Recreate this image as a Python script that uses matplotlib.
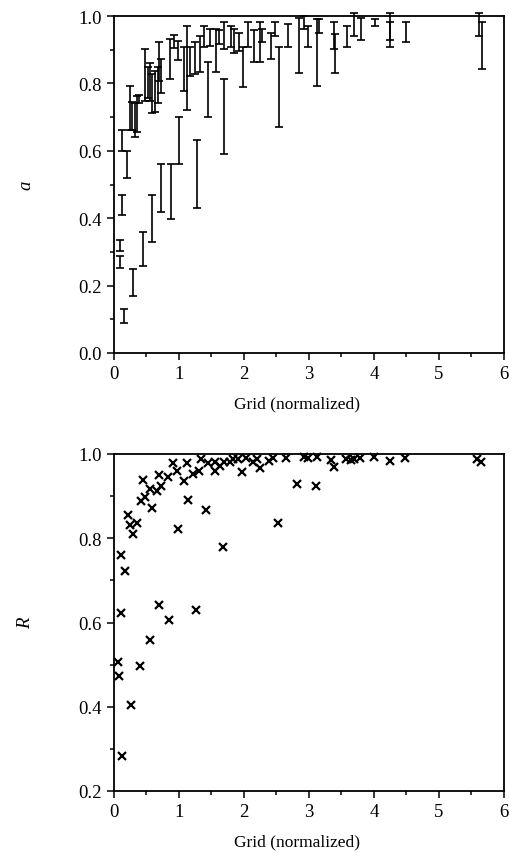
import matplotlib
matplotlib.use("Agg")
import matplotlib.pyplot as plt
from matplotlib.ticker import MultipleLocator
import numpy as np

# ---- Top panel: a (error bars, low/high) ----
a_x = [0.09, 0.09, 0.12, 0.13, 0.16, 0.20, 0.25, 0.28, 0.30, 0.32, 0.36, 0.38,
       0.44, 0.48, 0.52, 0.55, 0.58, 0.59, 0.63, 0.67, 0.70, 0.73, 0.73, 0.86,
       0.87, 0.93, 0.99, 1.00, 1.08, 1.13, 1.17, 1.24, 1.28, 1.32, 1.39, 1.45,
       1.47, 1.57, 1.61, 1.69, 1.70, 1.80, 1.84, 1.93, 1.98, 2.06, 2.16, 2.25,
       2.28, 2.41, 2.47, 2.54, 2.67, 2.84, 2.92, 2.99, 3.13, 3.15, 3.39, 3.40,
       3.59, 3.69, 3.80, 4.02, 4.25, 4.25, 4.49, 5.61, 5.66]
a_low = [0.304, 0.251, 0.409, 0.600, 0.089, 0.519, 0.662, 0.663, 0.170, 0.640, 0.655, 0.742,
         0.257, 0.749, 0.757, 0.747, 0.712, 0.330, 0.714, 0.741, 0.808, 0.771, 0.417, 0.813,
         0.398, 0.904, 0.869, 0.561, 0.778, 0.721, 0.823, 0.828, 0.429, 0.833, 0.907, 0.701,
         0.912, 0.833, 0.917, 0.902, 0.591, 0.907, 0.890, 0.897, 0.790, 0.907, 0.863, 0.863,
         0.922, 0.872, 0.942, 0.670, 0.909, 0.830, 0.961, 0.909, 0.793, 0.951, 0.902, 0.830,
         0.909, 0.942, 0.929, 0.971, 0.929, 0.909, 0.922, 0.942, 0.843]
a_high = [0.336, 0.287, 0.469, 0.662, 0.131, 0.600, 0.793, 0.744, 0.249, 0.741, 0.763, 0.766,
          0.360, 0.902, 0.850, 0.860, 0.828, 0.469, 0.838, 0.848, 0.922, 0.872, 0.561, 0.932,
          0.561, 0.944, 0.927, 0.699, 0.907, 0.971, 0.907, 0.922, 0.632, 0.942, 0.971, 0.863,
          0.961, 0.961, 0.958, 0.981, 0.813, 0.971, 0.960, 0.951, 0.907, 0.981, 0.957, 0.981,
          0.961, 0.951, 0.981, 0.909, 0.976, 0.994, 0.999, 0.971, 0.991, 0.991, 0.981, 0.948,
          0.971, 1.010, 0.994, 0.991, 1.010, 0.981, 0.981, 1.010, 0.981]

# ---- Bottom panel: R (crosses) ----
r_x = [0.06, 0.07, 0.11, 0.17, 0.11, 0.12, 0.22, 0.24, 0.26, 0.30, 0.355, 0.40,
       0.42, 0.45, 0.48, 0.55, 0.56, 0.59, 0.66, 0.69, 0.70, 0.73, 0.83, 0.845,
       0.91, 0.97, 0.98, 1.08, 1.12, 1.14, 1.21, 1.26, 1.31, 1.34, 1.42, 1.44,
       1.56, 1.56, 1.63, 1.68, 1.70, 1.79, 1.83, 1.91, 1.97, 2.03, 2.14, 2.20,
       2.25, 2.39, 2.44, 2.53, 2.65, 2.81, 2.92, 2.98, 3.11, 3.12, 3.34, 3.39,
       3.57, 3.64, 3.70, 3.79, 4.00, 4.24, 4.47, 5.58, 5.64]
r_val = [0.507, 0.473, 0.761, 0.723, 0.623, 0.284, 0.856, 0.832, 0.404, 0.811, 0.837, 0.497,
         0.889, 0.939, 0.897, 0.917, 0.559, 0.871, 0.911, 0.949, 0.641, 0.925, 0.945, 0.605,
         0.978, 0.960, 0.821, 0.935, 0.978, 0.890, 0.953, 0.629, 0.960, 0.987, 0.868, 0.978,
         0.960, 0.982, 0.972, 0.780, 0.981, 0.981, 0.987, 0.987, 0.958, 0.990, 0.980, 0.987,
         0.967, 0.984, 0.990, 0.836, 0.990, 0.928, 0.992, 0.990, 0.925, 0.992, 0.985, 0.968,
         0.988, 0.985, 0.988, 0.990, 0.994, 0.984, 0.991, 0.987, 0.980]

x_ticks = [0, 1, 2, 3, 4, 5, 6]
a_ticks = [0.0, 0.2, 0.4, 0.6, 0.8, 1.0]
r_ticks = [0.2, 0.4, 0.6, 0.8, 1.0]

plt.rcParams['font.family'] = ['Liberation Serif', 'DejaVu Serif']

fig = plt.figure(figsize=(5.10, 8.53), dpi=100)
W, H = 510.0, 853.0
ax1 = fig.add_axes([114 / W, (H - 354) / H, 390 / W, 337 / H])
ax2 = fig.add_axes([114 / W, (H - 792) / H, 390 / W, 337 / H])

def style(ax):
    for s in ax.spines.values():
        s.set_linewidth(1.3)
        s.set_color('black')
    ax.tick_params(which='both', direction='out', top=False, right=False,
                   labelsize=13.5, colors='black', width=1.1)
    ax.tick_params(which='major', length=5, pad=4)
    ax.tick_params(which='minor', length=3)
    ax.xaxis.set_minor_locator(MultipleLocator(0.5))
    ax.yaxis.set_minor_locator(MultipleLocator(0.1))
    ax.set_xlim(0, 6)
    ax.set_xticks(x_ticks)
    ax.set_xticklabels([str(t) for t in x_ticks])
    ax.set_xlabel('Grid (normalized)', fontsize=12.5)
    ax.xaxis.set_label_coords(0.47, -0.125)

# top
a_x_arr = np.array(a_x)
lo = np.array(a_low)
hi = np.array(a_high)
mid = (lo + hi) / 2
ax1.errorbar(a_x_arr, mid, yerr=[mid - lo, hi - mid], fmt='none', ecolor='black',
             elinewidth=1.2, capsize=3.2, capthick=1.2, clip_on=False)
style(ax1)
ax1.set_ylim(0, 1.0)
ax1.set_yticks(a_ticks)
ax1.set_yticklabels([f'{t:.1f}' for t in a_ticks])
ax1.set_ylabel('a', fontstyle='italic', fontsize=13.5)
ax1.yaxis.set_label_coords(-0.205, 0.5)

# bottom
ax2.plot(r_x, r_val, linestyle='none', marker='x', markersize=5.5,
         markeredgewidth=1.6, color='black', clip_on=False)
style(ax2)
ax2.set_ylim(0.2, 1.0)
ax2.set_yticks(r_ticks)
ax2.set_yticklabels([f'{t:.1f}' for t in r_ticks])
ax2.set_ylabel('R', fontstyle='italic', fontsize=13.5)
ax2.yaxis.set_label_coords(-0.205, 0.5)

fig.savefig('out.png', dpi=100, facecolor='white')
